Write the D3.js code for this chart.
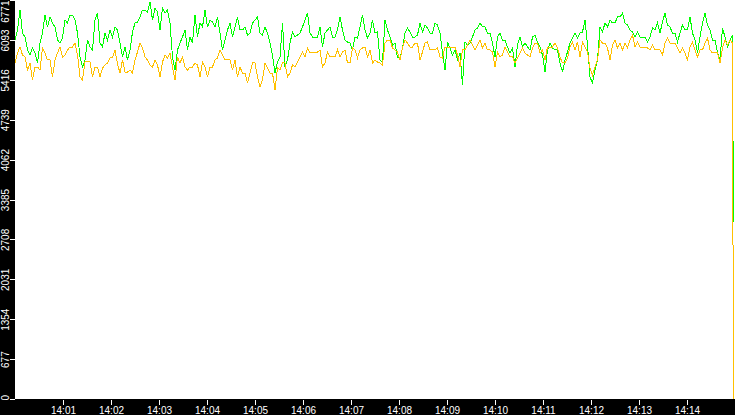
<!DOCTYPE html>
<html>
<head>
<meta charset="utf-8">
<script src="https://cdn.jsdelivr.net/npm/d3@7"></script>
<style>
  html, body { margin: 0; padding: 0; background: #000; }
  svg { display: block; }
  text { font-family: "Liberation Sans", Arial, sans-serif; font-size: 10px; fill: #fff; }
</style>
</head>
<body>
<svg id="chart" width="735" height="415"></svg>
<script>
// ---- data ----
const startTime = "14:00:00";
const endTime = "14:15:00";
const lastTime = "14:14:58";       // final sample where the lines drop
const xTickLabels = ["14:01","14:02","14:03","14:04","14:05","14:06","14:07","14:08","14:09","14:10","14:11","14:12","14:13","14:14"];
const yTicks = [0, 677, 1354, 2031, 2708, 3385, 4062, 4739, 5416, 6093, 6771];
const yMax = 6771;

const greenSeries = [
  // 14:00:00 - 14:03:45
  6092,6262,6601,6211,6143,5923,5838,5956,5872,5702,6041,6211,6516,6313,6483,6381,6313,6092,6041,6126,6432,6381,6516,6516,
  6432,6211,5804,5634,5753,6092,5973,5923,6432,6550,6041,5973,6211,6092,6262,6143,6313,6262,6041,5804,5973,5753,5923,6228,
  6381,6398,6483,6601,6601,6567,6737,6432,6635,6567,6262,6635,6550,6601,6381,5804,5583,5923,6041,6143,6262,5923,6143,6041,
  // 14:03:45 - 14:07:30
  6516,6143,6381,6313,6601,6313,6432,6398,6313,6483,6211,5923,6092,6262,6381,6143,6313,6483,6262,6262,6313,6177,6211,6381,
  6432,6483,6211,6177,6313,6211,6041,5838,5532,5719,5804,6381,5634,5753,6041,6228,6143,6177,6211,6313,6432,6550,6211,6143,
  6143,6143,6313,5973,6211,6262,6313,6143,6143,6262,6483,6262,6092,6058,6041,5923,6143,6126,6313,6516,6262,6126,6211,6432,
  // 14:07:30 - 14:11:15
  6211,6228,5753,5719,6432,6262,6143,6007,6041,5787,5787,5956,6211,6296,6228,6143,6143,6177,6381,6228,6347,6296,6211,6211,
  6381,6347,6211,5872,5583,6058,5956,5838,5923,5753,5872,5328,6058,6007,6041,6143,6262,6296,6381,6313,6313,6211,6211,6041,
  5804,6143,6211,6092,6092,5973,5872,5956,5634,6007,6143,5973,6041,5973,5923,6143,6177,6058,5973,5838,5549,5923,6041,5956,
  // 14:11:15 - 14:15:00
  5923,5923,5702,5549,5753,5889,6041,6126,6211,6126,6211,6228,6432,6007,5464,5363,5583,5753,6313,6228,6381,6313,6432,6381,
  6381,6483,6483,6550,6381,6347,6262,6228,6143,6228,6143,6143,6143,6058,6143,6296,6262,6381,6211,6398,6550,6347,6313,6211,
  6211,6058,6211,6347,6262,6262,6483,6211,6092,5872,6143,6381,6550,6347,6262,6092,6092,5872,5753,6296,6143,5973,6092,6177
];
const orangeSeries = [
  // 14:00:00 - 14:03:45
  5702,5872,5973,5838,5804,5583,5702,5414,5634,5634,5583,5956,5872,5753,5753,5464,5753,5872,5973,5804,5838,5923,5973,5973,
  6041,5838,5464,5414,5719,5719,5719,5464,5634,5634,5464,5617,5668,5702,5787,5787,5923,5685,5532,5753,5549,5549,5583,5532,
  5753,5889,6041,5956,5804,5753,5668,5634,5753,5668,5464,5719,5838,5787,5872,5634,5414,5804,5702,5804,5634,5583,5634,5634,
  // 14:03:45 - 14:07:30
  5702,5668,5464,5719,5634,5464,5634,5634,5753,5787,5923,5838,5753,5753,5753,5583,5753,5464,5634,5532,5532,5363,5532,5702,
  5702,5464,5295,5414,5702,5617,5532,5532,5244,5617,5583,5702,5702,5464,5532,5668,5634,5719,5804,5889,5804,5956,5872,5872,
  5872,5889,5923,5634,5702,5889,5804,5804,5804,5923,5804,5889,5923,5702,5702,5956,5923,5787,5923,5956,5973,5804,5923,5702,
  // 14:07:30 - 14:11:15
  5753,5719,5702,5668,6041,6092,6092,5956,5923,5889,5753,5956,6092,6041,5973,5973,6041,6041,5753,5889,6041,6058,5923,5923,
  5923,5956,5804,5787,5973,5973,5973,5973,5973,5838,5634,5923,5923,6007,6092,6007,5923,6007,6092,5956,6041,5923,5923,5889,
  5634,5889,5804,5838,5973,5889,5804,5804,5702,5787,5872,5956,5872,5838,5804,5956,6041,6041,5872,5923,5753,5973,5973,5973,
  // 14:11:15 - 14:15:00
  6041,5956,5804,5702,5702,5787,5973,6058,5923,6058,5804,6058,5973,5889,5617,5498,5634,5753,6092,6041,6041,5956,5753,6007,
  6092,5956,6041,5923,6041,5956,6092,6177,5973,6058,5973,5973,5973,5956,5923,6007,5923,5923,5923,5838,6041,6126,6041,6041,
  6041,5956,5872,5956,5872,5753,5973,6058,5923,5804,5923,5923,6041,6126,5923,5872,5872,5872,5702,5956,6092,6007,6092,6041
];
const greenLast = 3004;
const orangeLast = 0;

// ---- chart ----
const W = 735, H = 415;
const plotLeft = 15, plotRight = 735, plotTop = 0, plotBottom = 399;
const parse = d3.timeParse("%H:%M:%S");
const t0 = parse(startTime), t1 = parse(endTime), tLast = parse(lastTime);

function build(values, lastVal) {
  const stepMs = (t1 - t0) / values.length;
  const pts = values.map((v, i) => ({ t: new Date(t0.getTime() + i * stepMs), v }));
  pts.push({ t: tLast, v: lastVal });
  return pts;
}
const greenData = build(greenSeries, greenLast);
const orangeData = build(orangeSeries, orangeLast);

const x = d3.scaleTime().domain([t0, t1]).range([plotLeft, plotRight]);
const y = d3.scaleLinear().domain([0, yMax]).range([plotBottom, plotTop]);

const svg = d3.select("#chart");
svg.append("rect").attr("x", 0).attr("y", 0).attr("width", W).attr("height", H).attr("fill", "#000");
svg.append("rect").attr("x", plotLeft).attr("y", plotTop)
  .attr("width", plotRight - plotLeft).attr("height", plotBottom - plotTop).attr("fill", "#fff");

const line = d3.line().x(d => x(d.t)).y(d => y(d.v));

svg.append("path").datum(greenData).attr("d", line)
  .attr("fill", "none").attr("stroke", "#00ff00").attr("stroke-width", 1)
  .attr("shape-rendering", "crispEdges");
svg.append("path").datum(orangeData).attr("d", line)
  .attr("fill", "none").attr("stroke", "#ffc000").attr("stroke-width", 1)
  .attr("shape-rendering", "crispEdges");

// x axis
const xTickDates = xTickLabels.map(s => parse(s + ":00"));
const xAxis = d3.axisBottom(x).tickValues(xTickDates).tickSize(5).tickPadding(2)
  .tickFormat(d3.timeFormat("%H:%M"));
const gx = svg.append("g").attr("transform", `translate(0,${plotBottom + 1})`).call(xAxis);
gx.select(".domain").remove();
gx.selectAll("line").attr("stroke", "#fff").attr("shape-rendering", "crispEdges");
gx.selectAll("text").attr("fill", "#fff").attr("dy", null).attr("y", 14)
  .style("font-family", "'Liberation Sans', Arial, sans-serif").style("font-size", "10px");

// y axis
const yAxis = d3.axisLeft(y).tickValues(yTicks).tickSize(5).tickFormat(d3.format("d"));
const gy = svg.append("g").attr("transform", `translate(${plotLeft},0)`).call(yAxis);
gy.select(".domain").remove();
gy.selectAll("line").attr("stroke", "#fff").attr("shape-rendering", "crispEdges");
gy.selectAll("text")
  .attr("transform", "rotate(-90)")
  .attr("x", (d) => d === 0 ? -1 : 0)
  .attr("y", -6)
  .attr("dy", null)
  .attr("text-anchor", (d) => d === 0 ? "start" : (d === yMax ? "end" : "middle"))
  .attr("fill", "#fff")
  .style("font-family", "'Liberation Sans', Arial, sans-serif").style("font-size", "10px");
</script>
</body>
</html>
